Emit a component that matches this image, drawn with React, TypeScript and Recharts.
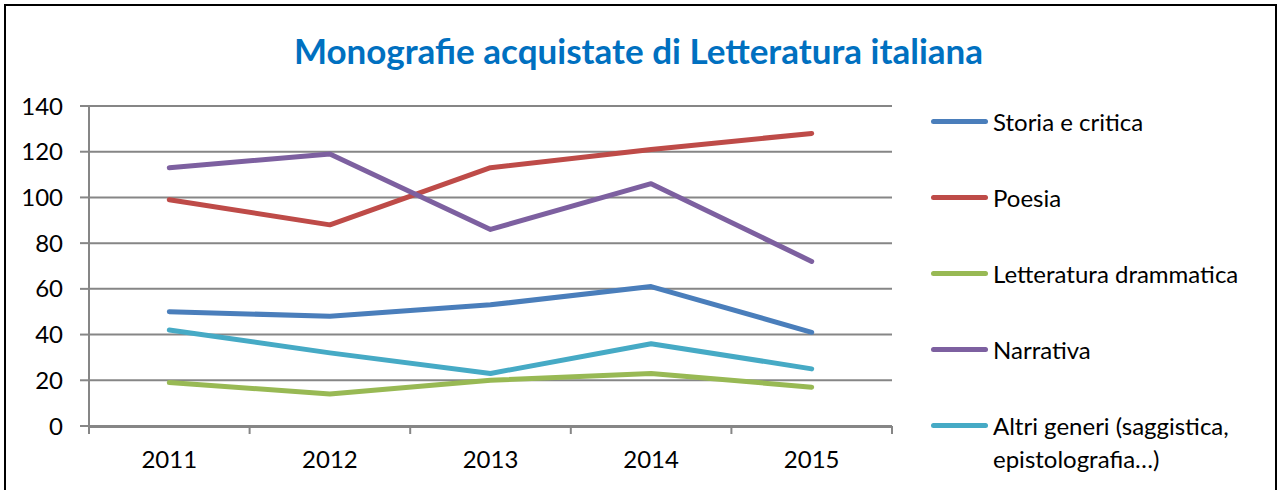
import { LineChart, Line, XAxis, YAxis, CartesianGrid } from 'recharts';

const years = ['2011', '2012', '2013', '2014', '2015'];
const storia = [50, 48, 53, 61, 41];
const poesia = [99, 88, 113, 121, 128];
const drammatica = [19, 14, 20, 23, 17];
const narrativa = [113, 119, 86, 106, 72];
const altri = [42, 32, 23, 36, 25];
const yTicks = [0, 20, 40, 60, 80, 100, 120, 140];
// category boundaries, where Excel puts its x tick marks
const boundaryTicks = [-0.5, 0.5, 1.5, 2.5, 3.5, 4.5];

const series = [
  { key: 'storia', name: 'Storia e critica', color: '#4A7EBB', values: storia },
  { key: 'poesia', name: 'Poesia', color: '#BE4B48', values: poesia },
  { key: 'drammatica', name: 'Letteratura drammatica', color: '#98B954', values: drammatica },
  { key: 'narrativa', name: 'Narrativa', color: '#7D60A0', values: narrativa },
  { key: 'altri', name: 'Altri generi (saggistica, epistolografia…)', color: '#46AAC5', values: altri },
];

const data = years.map((y, i) => {
  const row: any = { year: y, idx: i };
  series.forEach(s => { row[s.key] = s.values[i]; });
  return row;
});

const FONT = 'Lato, "Open Sans", sans-serif';
const AXIS = '#868686';

export default function App() {
  return (
    <div style={{ position: 'absolute', left: 0, top: 0, width: 1277, height: 490, background: '#fff', overflow: 'hidden', fontFamily: FONT }}>
      <div style={{ position: 'absolute', left: 4, top: 4, width: 1269, height: 500, border: '2px solid #000' }} />
      <div style={{ position: 'absolute', left: 0, top: 29, width: 1277, textAlign: 'center', color: '#0070C0', fontWeight: 700, fontSize: 35, lineHeight: '42px' }}>
        Monografie acquistate di Letteratura italiana
      </div>
      <div style={{ position: 'absolute', left: 0, top: 0 }}>
        <LineChart width={1277} height={490} data={data} margin={{ top: 106, right: 385, bottom: 0, left: 0 }}>
          <CartesianGrid horizontal vertical={false} stroke={AXIS} strokeWidth={2} xAxisId="cat" />
          <XAxis xAxisId="cat" dataKey="year" scale="band" height={63} tickLine={false} tickSize={0} tickMargin={24}
            axisLine={{ stroke: AXIS, strokeWidth: 2 }} tick={{ fill: '#000', fontSize: 24, fontFamily: FONT }} />
          <XAxis xAxisId="aBounds" type="number" dataKey="idx" domain={[-0.5, 4.5]} ticks={boundaryTicks} interval={0}
            height={1} tick={() => <g />} tickSize={8} tickLine={{ stroke: AXIS, strokeWidth: 2 }} axisLine={false} />
          <YAxis domain={[0, 140]} ticks={yTicks} width={89} tickSize={9} tickMargin={17}
            axisLine={{ stroke: AXIS, strokeWidth: 2 }} tickLine={{ stroke: AXIS, strokeWidth: 2 }}
            tick={{ fill: '#000', fontSize: 24, fontFamily: FONT }} interval={0} />
          {series.map(s => (
            <Line key={s.key} xAxisId="cat" dataKey={s.key} name={s.name} stroke={s.color} strokeWidth={5}
              strokeLinecap="round" strokeLinejoin="round" dot={false} activeDot={false} isAnimationActive={false} />
          ))}
        </LineChart>
      </div>
      {series.map((s, i) => (
        <div key={s.key} style={{ position: 'absolute', left: 931, top: 105 + i * 76, display: 'flex', alignItems: 'flex-start' }}>
          <div style={{ width: 57, height: 5, borderRadius: 3, background: s.color, marginTop: 14, marginRight: 5 }} />
          <div style={{ fontSize: 24, lineHeight: '33px', color: '#000', width: 290 }}>{s.name}</div>
        </div>
      ))}
    </div>
  );
}
